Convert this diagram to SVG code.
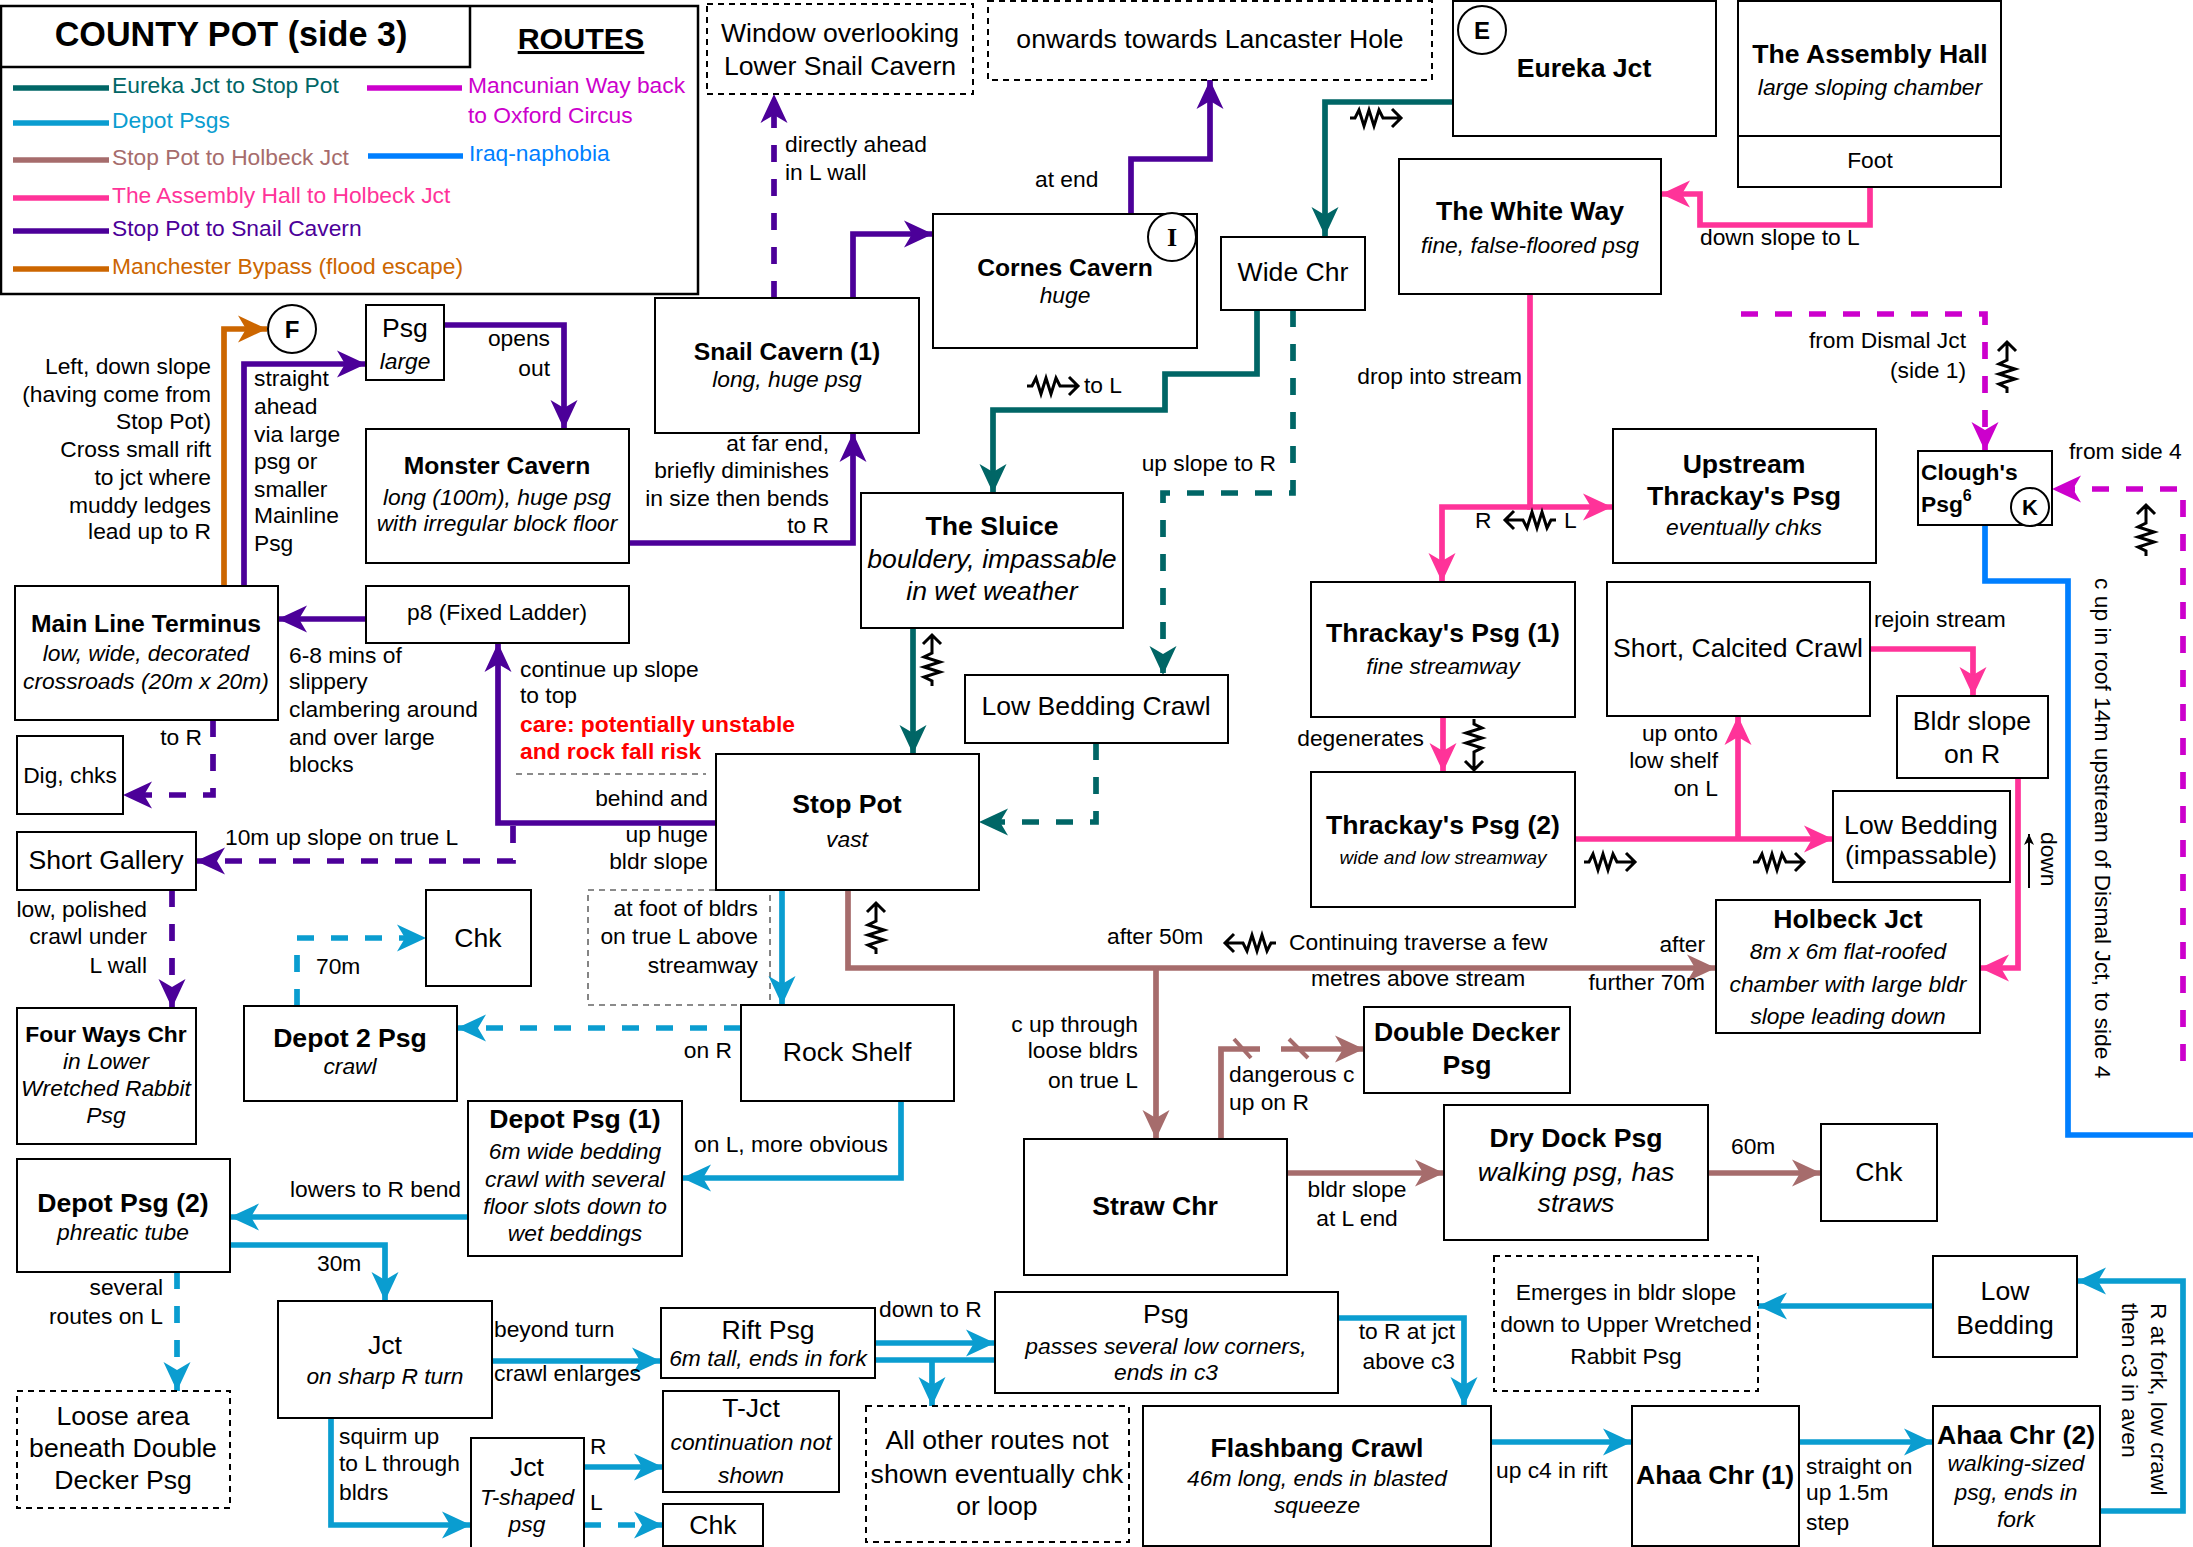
<svg xmlns="http://www.w3.org/2000/svg" width="2193" height="1547" viewBox="0 0 2193 1547">
<defs>
<style>
.n{fill:#fff;stroke:#000;stroke-width:2}
.nd{fill:#fff;stroke:#000;stroke-width:2;stroke-dasharray:6 5}
.gd{fill:none;stroke:#666;stroke-width:1.6;stroke-dasharray:6 5}
text{font-family:"Liberation Sans",Arial,sans-serif;font-size:22.8px;fill:#000}
.m{font-size:26.6px}
.ms{font-size:24.7px}
.sm{font-size:19px}
.lt{font-size:24px}
.b{font-weight:bold}
.i{font-style:italic}
.c{text-anchor:middle}
.r{text-anchor:end}
.e{fill:none;stroke-width:5.7}
.d{stroke-dasharray:17 17}
.teal{stroke:#006666}
.cy{stroke:#0a9dd0}
.rose{stroke:#a66c6c}
.pink{stroke:#ff3399}
.pur{stroke:#4c0099}
.org{stroke:#cc6600}
.mag{stroke:#cc00cc}
.blu{stroke:#007fff}
.lg{stroke-width:5.7;fill:none}
.circ{fill:#fff;stroke:#000;stroke-width:2}
</style>
<marker id="aT" viewBox="-30 -15 31 30" markerWidth="31" markerHeight="30" refX="0" refY="0" orient="auto" markerUnits="userSpaceOnUse"><path d="M0,0L-29,-13.5L-21,0L-29,13.5Z" fill="#006666"/></marker>
<marker id="aC" viewBox="-30 -15 31 30" markerWidth="31" markerHeight="30" refX="0" refY="0" orient="auto" markerUnits="userSpaceOnUse"><path d="M0,0L-29,-13.5L-21,0L-29,13.5Z" fill="#0a9dd0"/></marker>
<marker id="aR" viewBox="-30 -15 31 30" markerWidth="31" markerHeight="30" refX="0" refY="0" orient="auto" markerUnits="userSpaceOnUse"><path d="M0,0L-29,-13.5L-21,0L-29,13.5Z" fill="#a66c6c"/></marker>
<marker id="aP" viewBox="-30 -15 31 30" markerWidth="31" markerHeight="30" refX="0" refY="0" orient="auto" markerUnits="userSpaceOnUse"><path d="M0,0L-29,-13.5L-21,0L-29,13.5Z" fill="#ff3399"/></marker>
<marker id="aU" viewBox="-30 -15 31 30" markerWidth="31" markerHeight="30" refX="0" refY="0" orient="auto" markerUnits="userSpaceOnUse"><path d="M0,0L-29,-13.5L-21,0L-29,13.5Z" fill="#4c0099"/></marker>
<marker id="aO" viewBox="-30 -15 31 30" markerWidth="31" markerHeight="30" refX="0" refY="0" orient="auto" markerUnits="userSpaceOnUse"><path d="M0,0L-29,-13.5L-21,0L-29,13.5Z" fill="#cc6600"/></marker>
<marker id="aM" viewBox="-30 -15 31 30" markerWidth="31" markerHeight="30" refX="0" refY="0" orient="auto" markerUnits="userSpaceOnUse"><path d="M0,0L-29,-13.5L-21,0L-29,13.5Z" fill="#cc00cc"/></marker>
<marker id="aK" viewBox="-12 -6 13 12" markerWidth="13" markerHeight="12" refX="0" refY="0" orient="auto" markerUnits="userSpaceOnUse"><path d="M0,0L-11,-5L-8,0L-11,5Z" fill="#000"/></marker>
<g id="sq"><path d="M-26,0H-21L-17,-8L-12,8L-7,-8L-2,8L3,-8L7,0H24M16,-9L25,0L16,9" fill="none" stroke="#000" stroke-width="3"/></g>
</defs>
<rect width="2193" height="1547" fill="#fff"/>

<g id="legend">
<rect x="1" y="6" width="697" height="288" fill="#fff" stroke="#000" stroke-width="2.5"/>
<path d="M1,67H470V6" fill="none" stroke="#000" stroke-width="2.5"/>
<text x="231" y="46" class="b c" style="font-size:34.2px">COUNTY POT (side 3)</text>
<text x="581" y="49" class="b c" style="font-size:30.4px;text-decoration:underline">ROUTES</text>
<path class="lg teal" d="M13,88H109"/><text x="112" y="93" style="fill:#006666">Eureka Jct to Stop Pot</text>
<path class="lg cy" d="M13,123H109"/><text x="112" y="128" style="fill:#0a9dd0">Depot Psgs</text>
<path class="lg rose" d="M13,160H109"/><text x="112" y="165" style="fill:#a66c6c">Stop Pot to Holbeck Jct</text>
<path class="lg pink" d="M13,198H109"/><text x="112" y="203" style="fill:#ff3399">The Assembly Hall to Holbeck Jct</text>
<path class="lg pur" d="M13,231H109"/><text x="112" y="236" style="fill:#4c0099">Stop Pot to Snail Cavern</text>
<path class="lg org" d="M13,269H109"/><text x="112" y="274" style="fill:#cc6600">Manchester Bypass (flood escape)</text>
<path class="lg mag" d="M367,88H462"/><text x="468" y="93" style="fill:#cc00cc">Mancunian Way back</text><text x="468" y="123" style="fill:#cc00cc">to Oxford Circus</text>
<path class="lg blu" d="M368,156H463"/><text x="469" y="161" style="fill:#007fff">Iraq-naphobia</text>
</g>

<rect class="gd" x="588" y="890" width="182" height="115"/>
<path class="gd" d="M516,774H706"/>

<g id="connectors">
<path class="e teal" d="M1453,102H1325V236" marker-end="url(#aT)"/>
<path class="e teal" d="M1257,310V374H1165V410H993V493" marker-end="url(#aT)"/>
<path class="e teal d" d="M1293,310V493H1163V675" marker-end="url(#aT)"/>
<path class="e teal" d="M913,628V754" marker-end="url(#aT)"/>
<path class="e teal d" d="M1096,743V822H979" marker-end="url(#aT)"/>

<path class="e pur" d="M244,586V364H366" marker-end="url(#aU)"/>
<path class="e pur" d="M444,325H564V429" marker-end="url(#aU)"/>
<path class="e pur" d="M629,543H853V433" marker-end="url(#aU)"/>
<path class="e pur d" d="M774,298V94" marker-end="url(#aU)"/>
<path class="e pur" d="M853,298V234H933" marker-end="url(#aU)"/>
<path class="e pur" d="M1131,214V159H1210V80" marker-end="url(#aU)"/>
<path class="e pur" d="M366,619H278" marker-end="url(#aU)"/>
<path class="e pur" d="M716,823H498V643" marker-end="url(#aU)"/>
<path class="e pur d" d="M513,826V861H196" marker-end="url(#aU)"/>
<path class="e pur d" d="M213,720V795H123" marker-end="url(#aU)"/>
<path class="e pur d" d="M172,890V1008" marker-end="url(#aU)"/>

<path class="e org" d="M224,586V329H267" marker-end="url(#aO)"/>

<path class="e pink" d="M1530,294V507H1612" marker-end="url(#aP)"/>
<path class="e pink" d="M1530,507H1442V582" marker-end="url(#aP)"/>
<path class="e pink" d="M1443,717V772" marker-end="url(#aP)"/>
<path class="e pink" d="M1575,839H1833" marker-end="url(#aP)"/>
<path class="e pink" d="M1738,839V716" marker-end="url(#aP)"/>
<path class="e pink" d="M1870,649H1973V696" marker-end="url(#aP)"/>
<path class="e pink" d="M2018,778V968H1980" marker-end="url(#aP)"/>
<path class="e pink" d="M1870,187V225H1700V194H1661" marker-end="url(#aP)"/>

<path class="e mag d" d="M1741,314H1985V451" marker-end="url(#aM)"/>
<path class="e mag d" d="M2183,1061V489H2052" marker-end="url(#aM)"/>

<path class="e blu" d="M1985,525V581H2068V1135H2193"/>

<path class="e rose" d="M848,890V968H1716" marker-end="url(#aR)"/>
<path class="e rose" d="M1156,968V1139" marker-end="url(#aR)"/>
<path class="e rose" d="M1221,1139V1049H1260"/>
<path class="e rose" d="M1281,1049H1364" marker-end="url(#aR)"/>
<path class="rose" d="M1234,1039L1251,1058M1289,1039L1308,1058" stroke-width="4" fill="none"/>
<path class="e rose" d="M1287,1173H1444" marker-end="url(#aR)"/>
<path class="e rose" d="M1708,1173H1821" marker-end="url(#aR)"/>

<path class="e cy" d="M782,890V1005" marker-end="url(#aC)"/>
<path class="e cy d" d="M741,1028H457" marker-end="url(#aC)"/>
<path class="e cy d" d="M297,1006V938H426" marker-end="url(#aC)"/>
<path class="e cy" d="M901,1101V1178H682" marker-end="url(#aC)"/>
<path class="e cy" d="M468,1217H230" marker-end="url(#aC)"/>
<path class="e cy" d="M230,1245H385V1301" marker-end="url(#aC)"/>
<path class="e cy d" d="M177,1272V1391" marker-end="url(#aC)"/>
<path class="e cy" d="M492,1361H661" marker-end="url(#aC)"/>
<path class="e cy" d="M331,1418V1525H471" marker-end="url(#aC)"/>
<path class="e cy" d="M584,1467H663" marker-end="url(#aC)"/>
<path class="e cy d" d="M584,1525H663" marker-end="url(#aC)"/>
<path class="e cy" d="M875,1343H995" marker-end="url(#aC)"/>
<path class="e cy" d="M875,1360H995"/>
<path class="e cy" d="M932,1360V1406" marker-end="url(#aC)"/>
<path class="e cy" d="M1338,1318H1464V1406" marker-end="url(#aC)"/>
<path class="e cy" d="M1491,1442H1632" marker-end="url(#aC)"/>
<path class="e cy" d="M1799,1442H1933" marker-end="url(#aC)"/>
<path class="e cy" d="M2100,1511H2183V1281H2077" marker-end="url(#aC)"/>
<path class="e cy" d="M1933,1306H1758" marker-end="url(#aC)"/>

<path d="M2029,888V834" stroke="#000" stroke-width="2" fill="none" marker-end="url(#aK)"/>

<use href="#sq" transform="translate(1376,118)"/>
<use href="#sq" transform="translate(1053,386)"/>
<use href="#sq" transform="translate(1530,520) rotate(180)"/>
<use href="#sq" transform="translate(2007,367) rotate(-90)"/>
<use href="#sq" transform="translate(2146,530) rotate(-90)"/>
<use href="#sq" transform="translate(932,660) rotate(-90)"/>
<use href="#sq" transform="translate(876,928) rotate(-90)"/>
<use href="#sq" transform="translate(1474,745) rotate(90)"/>
<use href="#sq" transform="translate(1610,862)"/>
<use href="#sq" transform="translate(1779,862)"/>
<use href="#sq" transform="translate(1250,943) rotate(180)"/>
</g>

<g id="window"><rect class="nd" x="707" y="4" width="266" height="90"/><text x="840" y="42" class="m c">Window overlooking</text><text x="840" y="75" class="m c">Lower Snail Cavern</text></g>
<g id="onwards"><rect class="nd" x="988" y="1" width="444" height="79"/><text x="1210" y="48" class="m c">onwards towards Lancaster Hole</text></g>
<g id="eureka"><rect class="n" x="1453" y="1" width="263" height="135"/><text x="1584" y="77" class="m b c">Eureka Jct</text><circle class="circ" cx="1482" cy="30" r="24"/><text x="1482" y="39" class="b c lt">E</text></g>
<g id="assembly"><rect class="n" x="1738" y="1" width="263" height="186"/><path d="M1738,136H2001" stroke="#000" stroke-width="2"/><text x="1870" y="63" class="m b c">The Assembly Hall</text><text x="1870" y="95" class="i c">large sloping chamber</text><text x="1870" y="168" class="c">Foot</text></g>
<g id="cornes"><rect class="n" x="933" y="214" width="264" height="134"/><text x="1065" y="276" class="ms b c">Cornes Cavern</text><text x="1065" y="303" class="i c">huge</text><circle class="circ" cx="1172" cy="237" r="24"/><text x="1172" y="246" class="b c" style="font-family:'Liberation Serif',serif;font-size:26px">I</text></g>
<g id="widechr"><rect class="n" x="1221" y="237" width="144" height="73"/><text x="1293" y="281" class="m c">Wide Chr</text></g>
<g id="whiteway"><rect class="n" x="1399" y="159" width="262" height="135"/><text x="1530" y="220" class="m b c">The White Way</text><text x="1530" y="253" class="i c">fine, false-floored psg</text></g>
<g id="snail"><rect class="n" x="655" y="298" width="264" height="135"/><text x="787" y="360" class="ms b c">Snail Cavern (1)</text><text x="787" y="387" class="i c">long, huge psg</text></g>
<g id="psgtop"><rect class="n" x="366" y="305" width="78" height="75"/><text x="405" y="337" class="m c">Psg</text><text x="405" y="369" class="i c">large</text></g>
<g id="F"><circle class="circ" cx="292" cy="329" r="24"/><text x="292" y="338" class="b c lt">F</text></g>
<g id="monster"><rect class="n" x="366" y="429" width="263" height="134"/><text x="497" y="474" class="ms b c">Monster Cavern</text><text x="497" y="505" class="i c">long (100m), huge psg</text><text x="497" y="531" class="i c">with irregular block floor</text></g>
<g id="sluice"><rect class="n" x="861" y="493" width="262" height="135"/><text x="992" y="535" class="m b c">The Sluice</text><text x="992" y="568" class="m i c">bouldery, impassable</text><text x="992" y="600" class="m i c">in wet weather</text></g>
<g id="upstream"><rect class="n" x="1613" y="429" width="263" height="134"/><text x="1744" y="473" class="m b c">Upstream</text><text x="1744" y="505" class="m b c">Thrackay's Psg</text><text x="1744" y="535" class="i c">eventually chks</text></g>
<g id="clough"><rect class="n" x="1918" y="451" width="134" height="74"/><text x="1921" y="480" class="b">Clough's</text><text x="1921" y="512" class="b">Psg<tspan dy="-11" style="font-size:16px">6</tspan></text><circle class="circ" cx="2030" cy="507" r="19"/><text x="2030" y="515" class="b c" style="font-size:22px">K</text></g>
<g id="mainline"><rect class="n" x="15" y="586" width="263" height="134"/><text x="146" y="632" class="ms b c">Main Line Terminus</text><text x="146" y="661" class="i c">low, wide, decorated</text><text x="146" y="689" class="i c">crossroads (20m x 20m)</text></g>
<g id="p8"><rect class="n" x="366" y="586" width="263" height="57"/><text x="497" y="620" class="c">p8 (Fixed Ladder)</text></g>
<g id="thrackay1"><rect class="n" x="1311" y="582" width="264" height="135"/><text x="1443" y="642" class="m b c">Thrackay's Psg (1)</text><text x="1443" y="674" class="i c">fine streamway</text></g>
<g id="calcited"><rect class="n" x="1607" y="582" width="263" height="134"/><text x="1738" y="657" class="m c">Short, Calcited Crawl</text></g>
<g id="lbc"><rect class="n" x="965" y="675" width="263" height="68"/><text x="1096" y="715" class="m c">Low Bedding Crawl</text></g>
<g id="bldr"><rect class="n" x="1897" y="696" width="151" height="82"/><text x="1972" y="730" class="m c">Bldr slope</text><text x="1972" y="763" class="m c">on R</text></g>
<g id="dig"><rect class="n" x="17" y="736" width="106" height="78"/><text x="70" y="783" class="c">Dig, chks</text></g>
<g id="stoppot"><rect class="n" x="716" y="754" width="263" height="136"/><text x="847" y="813" class="m b c">Stop Pot</text><text x="847" y="847" class="i c">vast</text></g>
<g id="thrackay2"><rect class="n" x="1311" y="772" width="264" height="135"/><text x="1443" y="834" class="m b c">Thrackay's Psg (2)</text><text x="1443" y="864" class="sm i c">wide and low streamway</text></g>
<g id="lowbedimp"><rect class="n" x="1833" y="791" width="177" height="91"/><text x="1921" y="834" class="m c">Low Bedding</text><text x="1921" y="864" class="m c">(impassable)</text></g>
<g id="shortgallery"><rect class="n" x="17" y="832" width="179" height="58"/><text x="106" y="869" class="m c">Short Gallery</text></g>
<g id="chk1"><rect class="n" x="426" y="890" width="105" height="96"/><text x="478" y="947" class="m c">Chk</text></g>
<g id="holbeck"><rect class="n" x="1716" y="900" width="264" height="133"/><text x="1848" y="928" class="m b c">Holbeck Jct</text><text x="1848" y="959" class="i c">8m x 6m flat-roofed</text><text x="1848" y="992" class="i c">chamber with large bldr</text><text x="1848" y="1024" class="i c">slope leading down</text></g>
<g id="fourways"><rect class="n" x="17" y="1008" width="179" height="136"/><text x="106" y="1042" class="b c">Four Ways Chr</text><text x="106" y="1069" class="i c">in Lower</text><text x="106" y="1096" class="i c">Wretched Rabbit</text><text x="106" y="1123" class="i c">Psg</text></g>
<g id="depot2"><rect class="n" x="244" y="1006" width="213" height="95"/><text x="350" y="1047" class="m b c">Depot 2 Psg</text><text x="350" y="1074" class="i c">crawl</text></g>
<g id="rockshelf"><rect class="n" x="741" y="1005" width="213" height="96"/><text x="847" y="1061" class="m c">Rock Shelf</text></g>
<g id="doubledecker"><rect class="n" x="1364" y="1007" width="206" height="86"/><text x="1467" y="1041" class="m b c">Double Decker</text><text x="1467" y="1074" class="m b c">Psg</text></g>
<g id="depot1"><rect class="n" x="468" y="1101" width="214" height="155"/><text x="575" y="1128" class="m b c">Depot Psg (1)</text><text x="575" y="1159" class="i c">6m wide bedding</text><text x="575" y="1187" class="i c">crawl with several</text><text x="575" y="1214" class="i c">floor slots down to</text><text x="575" y="1241" class="i c">wet beddings</text></g>
<g id="straw"><rect class="n" x="1024" y="1139" width="263" height="136"/><text x="1155" y="1215" class="m b c">Straw Chr</text></g>
<g id="drydock"><rect class="n" x="1444" y="1105" width="264" height="135"/><text x="1576" y="1147" class="m b c">Dry Dock Psg</text><text x="1576" y="1181" class="m i c">walking psg, has</text><text x="1576" y="1212" class="m i c">straws</text></g>
<g id="chk2"><rect class="n" x="1821" y="1124" width="116" height="97"/><text x="1879" y="1181" class="m c">Chk</text></g>
<g id="depotpsg2"><rect class="n" x="17" y="1159" width="213" height="113"/><text x="123" y="1212" class="m b c">Depot Psg (2)</text><text x="123" y="1240" class="i c">phreatic tube</text></g>
<g id="emerges"><rect class="nd" x="1494" y="1256" width="264" height="135"/><text x="1626" y="1300" class="c">Emerges in bldr slope</text><text x="1626" y="1332" class="c">down to Upper Wretched</text><text x="1626" y="1364" class="c">Rabbit Psg</text></g>
<g id="lowbedR"><rect class="n" x="1933" y="1256" width="144" height="101"/><text x="2005" y="1300" class="m c">Low</text><text x="2005" y="1334" class="m c">Bedding</text></g>
<g id="jct"><rect class="n" x="278" y="1301" width="214" height="117"/><text x="385" y="1354" class="m c">Jct</text><text x="385" y="1384" class="i c">on sharp R turn</text></g>
<g id="rift"><rect class="n" x="661" y="1308" width="214" height="70"/><text x="768" y="1339" class="m c">Rift Psg</text><text x="768" y="1366" class="i c">6m tall, ends in fork</text></g>
<g id="psgc3"><rect class="n" x="995" y="1292" width="343" height="101"/><text x="1166" y="1323" class="m c">Psg</text><text x="1166" y="1354" class="i c">passes several low corners,</text><text x="1166" y="1380" class="i c">ends in c3</text></g>
<g id="loose"><rect class="nd" x="17" y="1391" width="213" height="117"/><text x="123" y="1425" class="m c">Loose area</text><text x="123" y="1457" class="m c">beneath Double</text><text x="123" y="1489" class="m c">Decker Psg</text></g>
<g id="tjct"><rect class="n" x="663" y="1391" width="176" height="101"/><text x="751" y="1417" class="m c">T-Jct</text><text x="751" y="1450" class="i c">continuation not</text><text x="751" y="1483" class="i c">shown</text></g>
<g id="allother"><rect class="nd" x="866" y="1406" width="263" height="136"/><text x="997" y="1449" class="m c">All other routes not</text><text x="997" y="1483" class="m c">shown eventually chk</text><text x="997" y="1515" class="m c">or loop</text></g>
<g id="flashbang"><rect class="n" x="1143" y="1406" width="348" height="140"/><text x="1317" y="1457" class="m b c">Flashbang Crawl</text><text x="1317" y="1486" class="i c">46m long, ends in blasted</text><text x="1317" y="1513" class="i c">squeeze</text></g>
<g id="ahaa1"><rect class="n" x="1632" y="1406" width="167" height="140"/><text x="1715" y="1484" class="m b c">Ahaa Chr (1)</text></g>
<g id="ahaa2"><rect class="n" x="1933" y="1406" width="167" height="140"/><text x="2016" y="1444" class="m b c">Ahaa Chr (2)</text><text x="2016" y="1471" class="i c">walking-sized</text><text x="2016" y="1500" class="i c">psg, ends in</text><text x="2016" y="1527" class="i c">fork</text></g>
<g id="jctT"><rect class="n" x="471" y="1438" width="113" height="112"/><text x="527" y="1476" class="m c">Jct</text><text x="527" y="1505" class="i c">T-shaped</text><text x="527" y="1532" class="i c">psg</text></g>
<g id="chk3"><rect class="n" x="663" y="1504" width="100" height="42"/><text x="713" y="1534" class="m c">Chk</text></g>

<g id="labels">
<text x="211" y="374" class="r">Left, down slope</text>
<text x="211" y="402" class="r">(having come from</text>
<text x="211" y="429" class="r">Stop Pot)</text>
<text x="211" y="457" class="r">Cross small rift</text>
<text x="211" y="485" class="r">to jct where</text>
<text x="211" y="513" class="r">muddy ledges</text>
<text x="211" y="539" class="r">lead up to R</text>
<text x="254" y="386">straight</text>
<text x="254" y="414">ahead</text>
<text x="254" y="442">via large</text>
<text x="254" y="469">psg or</text>
<text x="254" y="497">smaller</text>
<text x="254" y="523">Mainline</text>
<text x="254" y="551">Psg</text>
<text x="550" y="346" class="r">opens</text>
<text x="550" y="376" class="r">out</text>
<text x="785" y="152">directly ahead</text>
<text x="785" y="180">in L wall</text>
<text x="1035" y="187">at end</text>
<text x="1084" y="393">to L</text>
<text x="829" y="451" class="r">at far end,</text>
<text x="829" y="478" class="r">briefly diminishes</text>
<text x="829" y="506" class="r">in size then bends</text>
<text x="829" y="533" class="r">to R</text>
<text x="1276" y="471" class="r">up slope to R</text>
<text x="1522" y="384" class="r">drop into stream</text>
<text x="1475" y="528">R</text>
<text x="1564" y="528">L</text>
<text x="1700" y="245">down slope to L</text>
<text x="1966" y="348" class="r">from Dismal Jct</text>
<text x="1966" y="378" class="r">(side 1)</text>
<text x="2069" y="459">from side 4</text>
<text x="289" y="663">6-8 mins of</text>
<text x="289" y="689">slippery</text>
<text x="289" y="717">clambering around</text>
<text x="289" y="745">and over large</text>
<text x="289" y="772">blocks</text>
<text x="202" y="745" class="r">to R</text>
<text x="520" y="677">continue up slope</text>
<text x="520" y="703">to top</text>
<text x="520" y="732" class="b" style="fill:#ff0000">care: potentially unstable</text>
<text x="520" y="759" class="b" style="fill:#ff0000">and rock fall risk</text>
<text x="708" y="806" class="r">behind and</text>
<text x="708" y="842" class="r">up huge</text>
<text x="708" y="869" class="r">bldr slope</text>
<text x="225" y="845">10m up slope on true L</text>
<text x="147" y="917" class="r">low, polished</text>
<text x="147" y="944" class="r">crawl under</text>
<text x="147" y="973" class="r">L wall</text>
<text x="316" y="974">70m</text>
<text x="758" y="916" class="r">at foot of bldrs</text>
<text x="758" y="944" class="r">on true L above</text>
<text x="758" y="973" class="r">streamway</text>
<text x="1424" y="746" class="r">degenerates</text>
<text x="1874" y="627">rejoin stream</text>
<text x="1718" y="741" class="r">up onto</text>
<text x="1718" y="768" class="r">low shelf</text>
<text x="1718" y="796" class="r">on L</text>
<text x="1107" y="944">after 50m</text>
<text x="1289" y="950">Continuing traverse a few</text>
<text x="1311" y="986">metres above stream</text>
<text x="1705" y="952" class="r">after</text>
<text x="1705" y="990" class="r">further 70m</text>
<text x="1138" y="1032" class="r">c up through</text>
<text x="1138" y="1058" class="r">loose bldrs</text>
<text x="1138" y="1088" class="r">on true L</text>
<text x="732" y="1058" class="r">on R</text>
<text x="694" y="1152">on L, more obvious</text>
<text x="461" y="1197" class="r">lowers to R bend</text>
<text x="317" y="1271">30m</text>
<text x="163" y="1295" class="r">several</text>
<text x="163" y="1324" class="r">routes on L</text>
<text x="494" y="1337">beyond turn</text>
<text x="494" y="1381">crawl enlarges</text>
<text x="879" y="1317">down to R</text>
<text x="339" y="1444">squirm up</text>
<text x="339" y="1471">to L through</text>
<text x="339" y="1500">bldrs</text>
<text x="590" y="1454">R</text>
<text x="590" y="1510">L</text>
<text x="1229" y="1082">dangerous c</text>
<text x="1229" y="1110">up on R</text>
<text x="1357" y="1197" class="c">bldr slope</text>
<text x="1357" y="1226" class="c">at L end</text>
<text x="1731" y="1154">60m</text>
<text x="1455" y="1339" class="r">to R at jct</text>
<text x="1455" y="1369" class="r">above c3</text>
<text x="1496" y="1478">up c4 in rift</text>
<text x="1806" y="1474">straight on</text>
<text x="1806" y="1500">up 1.5m</text>
<text x="1806" y="1530">step</text>
<text transform="translate(2095,578) rotate(90)">c up in roof 14m upstream of Dismal Jct, to side 4</text>
<text transform="translate(2041,832) rotate(90)">down</text>
<text transform="translate(2151,1303) rotate(90)">R at fork, low crawl</text>
<text transform="translate(2122,1303) rotate(90)">then c3 in aven</text>
</g>
</svg>
